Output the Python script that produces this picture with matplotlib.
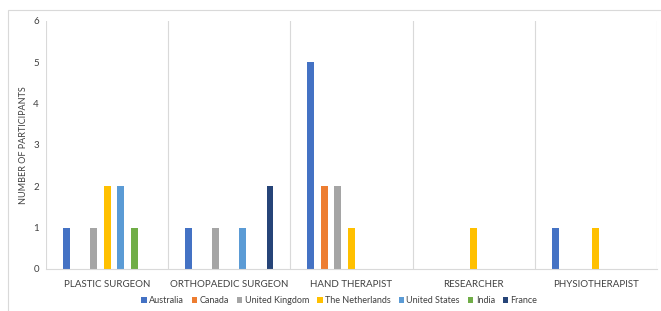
import numpy as np
import matplotlib.pyplot as plt
from matplotlib.patches import Rectangle

# datos
roles = ["PLASTIC SURGEON", "ORTHOPAEDIC SURGEON", "HAND THERAPIST",
         "RESEARCHER", "PHYSIOTHERAPIST"]
paises = ["Australia", "Canada", "United Kingdom", "The Netherlands",
          "United States", "India", "France"]
australia = [1, 1, 5, 0, 1]
canada = [0, 0, 2, 0, 0]
reino_unido = [1, 1, 2, 0, 0]
holanda = [2, 0, 1, 1, 1]
estados_unidos = [2, 1, 0, 0, 0]
india = [1, 0, 0, 0, 0]
francia = [0, 2, 0, 0, 0]
series = [australia, canada, reino_unido, holanda, estados_unidos, india, francia]
colores = ["#4472C4", "#ED7D31", "#A5A5A5", "#FFC000", "#5B9BD5", "#70AD47", "#264478"]

plt.rcParams["font.family"] = ["Lato", "DejaVu Sans"]

fig = plt.figure(figsize=(6.61, 3.11), dpi=100)
ax = fig.add_axes([46 / 661, 42 / 311, 611 / 661, 248 / 311])

x = np.arange(len(roles))
paso = 0.111
ancho = 0.057
for i, (vals, col, nom) in enumerate(zip(series, colores, paises)):
    ax.bar(x + (i - 3) * paso, vals, width=ancho, color=col, label=nom)

ax.set_xlim(-0.5, len(roles) - 0.5)
ax.set_ylim(0, 6)
ax.set_yticks(range(7))
ax.set_xticks(x)
ax.set_xticklabels(roles, fontsize=7, color="#404040")
ax.tick_params(axis="both", length=0, colors="#404040", labelsize=7)
ax.tick_params(axis="x", pad=8)
ax.tick_params(axis="y", pad=5)

# separadores verticales entre categorías
for b in np.arange(-0.5, len(roles), 1.0):
    ax.axvline(b, color="#D9D9D9", lw=0.8, zorder=0)

for s in ["top", "right", "left"]:
    ax.spines[s].set_visible(False)
ax.spines["bottom"].set_color("#D9D9D9")

ax.set_ylabel("NUMBER OF PARTICIPANTS", fontsize=6.5, color="#404040", labelpad=4)

ax.legend(loc="center", bbox_to_anchor=(0.48, -0.128), ncol=7, frameon=False,
          fontsize=6.5, handlelength=0.6, handleheight=0.6, handletextpad=0.25,
          columnspacing=0.9, labelcolor="#404040")

# borde del área del gráfico
fig.patches.append(Rectangle((8 / 661, -0.02), 1.0, (311 - 10) / 311 + 0.02,
                             transform=fig.transFigure, fill=False,
                             edgecolor="#D9D9D9", lw=0.8))

fig.savefig("out.png", dpi=100)
